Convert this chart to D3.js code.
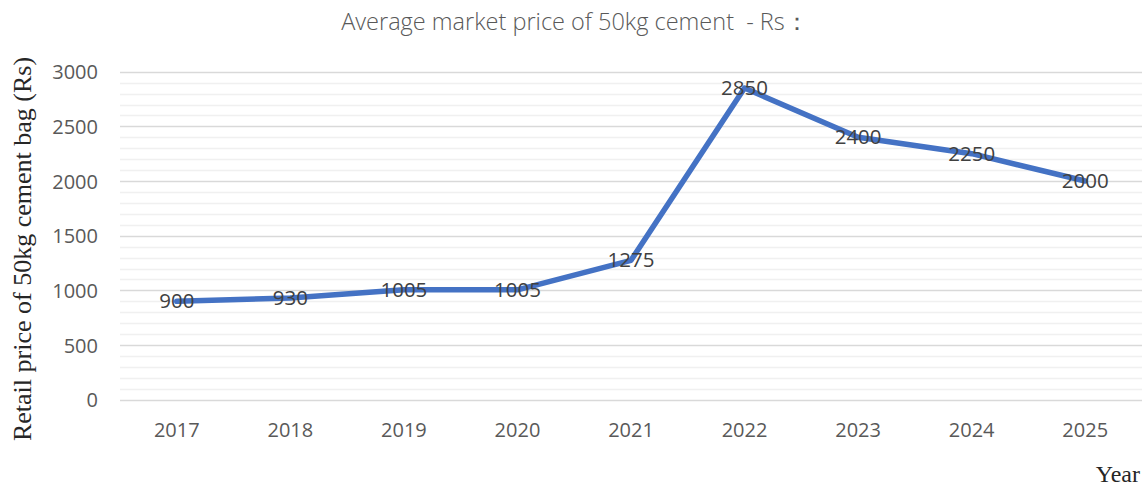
<!DOCTYPE html>
<html>
<head>
<meta charset="utf-8">
<script src="https://cdn.jsdelivr.net/npm/d3@7"></script>
<style>
  body { margin: 0; background: #fff; }
  svg { display: block; }
</style>
</head>
<body>
<div class="grafico"></div>
<script>
var anios = ['2017', '2018', '2019', '2020', '2021', '2022', '2023', '2024', '2025'];
var precios = [900, 930, 1005, 1005, 1275, 2850, 2400, 2250, 2000];
var ticksY = [0, 500, 1000, 1500, 2000, 2500, 3000];
var ticksMenores = d3.range(0, 3001, 100);

var ancho = 1142, alto = 489;
var izq = 120, der = 1142, arriba = 71.7, abajo = 399.7;

var contenedor = d3.select('.grafico')
  .append('svg')
  .attr('width', ancho)
  .attr('height', alto);

const xScale = d3.scaleBand()
  .domain(anios)
  .range([izq, der]);

const yScale = d3.scaleLinear()
  .domain([0, 3000])
  .range([abajo, arriba]);

// lineas menores
contenedor.append('g')
  .selectAll('line')
  .data(ticksMenores.filter(d => d % 500 !== 0))
  .enter()
  .append('line')
  .attr('x1', izq)
  .attr('x2', der)
  .attr('y1', d => Math.round(yScale(d)) + 0.5)
  .attr('y2', d => Math.round(yScale(d)) + 0.5)
  .attr('stroke', '#f0f0f0')
  .attr('stroke-width', 1.5);

// lineas mayores
contenedor.append('g')
  .selectAll('line')
  .data(ticksY)
  .enter()
  .append('line')
  .attr('x1', izq)
  .attr('x2', der)
  .attr('y1', d => Math.round(yScale(d)) + 0.5)
  .attr('y2', d => Math.round(yScale(d)) + 0.5)
  .attr('stroke', '#d9d9d9')
  .attr('stroke-width', 1.5);

const yAxis = d3.axisLeft(yScale).tickValues(ticksY).tickFormat(d3.format('d')).tickSize(0).tickPadding(0);
const xAxis = d3.axisBottom(xScale).tickSize(0).tickPadding(0);

var gy = contenedor.append('g')
  .attr('transform', 'translate(98, 0)')
  .call(yAxis);
gy.select('.domain').remove();
gy.selectAll('text')
  .attr('fill', '#595959')
  .attr('dy', '0.35em')
  .style('font-family', '"Open Sans", sans-serif')
  .style('font-size', '20px');

var gx = contenedor.append('g')
  .attr('transform', 'translate(0, 423)')
  .call(xAxis);
gx.select('.domain').remove();
gx.selectAll('text')
  .attr('fill', '#595959')
  .attr('dy', '0.71em')
  .style('font-family', '"Open Sans", sans-serif')
  .style('font-size', '20px');

var linea = d3.line()
  .x((d, i) => xScale(anios[i]) + xScale.bandwidth() / 2)
  .y(d => yScale(d));

contenedor.append('path')
  .datum(precios)
  .attr('d', linea)
  .attr('fill', 'none')
  .attr('stroke', '#4472c4')
  .attr('stroke-width', 5.5)
  .attr('stroke-linejoin', 'round')
  .attr('stroke-linecap', 'round');

contenedor.append('g')
  .selectAll('text')
  .data(precios)
  .enter()
  .append('text')
  .attr('x', (d, i) => xScale(anios[i]) + xScale.bandwidth() / 2)
  .attr('y', d => yScale(d))
  .attr('dy', '0.35em')
  .attr('text-anchor', 'middle')
  .attr('fill', '#404040')
  .style('font-family', '"Open Sans", sans-serif')
  .style('font-size', '20.5px')
  .text(d => d);

contenedor.append('text')
  .attr('x', 575)
  .attr('y', 22)
  .attr('dy', '0.35em')
  .attr('text-anchor', 'middle')
  .attr('fill', '#595959')
  .style('font-family', '"Open Sans", sans-serif')
  .style('font-weight', 300)
  .style('font-size', '23.5px')
  .style('white-space', 'pre')
  .text('Average market price of 50kg cement  - Rs\uff1a');

contenedor.append('text')
  .attr('transform', 'translate(22, 249) rotate(-90)')
  .attr('dy', '0.35em')
  .attr('text-anchor', 'middle')
  .attr('fill', '#262626')
  .style('font-family', '"Liberation Serif", serif')
  .style('font-size', '26px')
  .text('Retail price of 50kg cement bag (Rs)');

contenedor.append('text')
  .attr('x', 1140)
  .attr('y', 474)
  .attr('dy', '0.35em')
  .attr('text-anchor', 'end')
  .attr('fill', '#262626')
  .style('font-family', '"Liberation Serif", serif')
  .style('font-size', '24px')
  .text('Year');
</script>
</body>
</html>
